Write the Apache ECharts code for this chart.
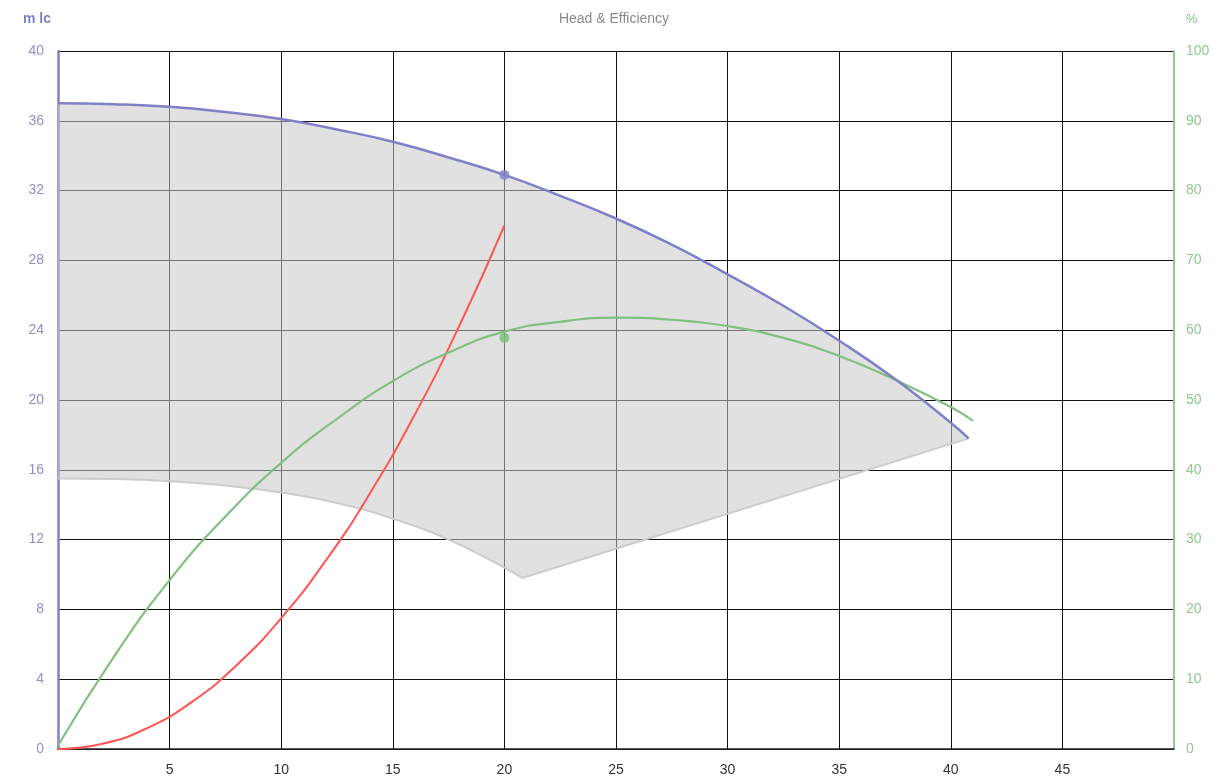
<!DOCTYPE html>
<html>
<head>
<meta charset="utf-8">
<script src="https://cdn.jsdelivr.net/npm/echarts@6/dist/echarts.min.js"></script>
<style>html,body{margin:0;padding:0;background:#fff}#c{width:1228px;height:783px}</style>
</head>
<body>
<div id="c"></div>
<script>
// Head curve (m lc)
const headQ = [0, 2.5, 5, 7.5, 10, 12.5, 15, 17.5, 20, 22.5, 25, 27.5, 30, 32.5, 35, 37.5, 40, 40.8];
const headH = [37, 36.95, 36.8, 36.5, 36.1, 35.5, 34.8, 33.9, 32.9, 31.7, 30.4, 28.9, 27.2, 25.4, 23.4, 21.2, 18.7, 17.8];
// Lower boundary of operating area (m lc): curved part, then straight part
const lowCurveQ = [0, 2.5, 5, 7.5, 10, 12.5, 15, 17.5, 20, 20.8];
const lowCurveH = [15.5, 15.47, 15.35, 15.1, 14.7, 14.1, 13.2, 12.0, 10.4, 9.8];
const lowLineQ = [20.8, 40.8];
const lowLineH = [9.8, 17.8];
// System curve (m lc)
const sysQ = [0, 2, 4, 6, 8, 10, 12, 14, 16, 18, 20];
const sysH = [0, 0.3, 1.2, 2.7, 4.8, 7.5, 10.8, 14.7, 19.2, 24.3, 30];
// Efficiency (%)
const effQ = [0, 2.5, 5, 7.5, 10, 12.5, 15, 17.5, 20, 22.5, 25, 27.5, 30, 32.5, 35, 37.5, 40, 41];
const effP = [0.5, 13.2, 24.2, 33.3, 41, 47.3, 52.7, 56.8, 59.8, 61.2, 61.8, 61.5, 60.6, 58.9, 56.3, 52.9, 49, 47];
// Duty points
const dutyHead = [[20, 32.9]];
const dutyEff = [[20, 58.9]];

const zip = (a, b) => a.map((v, i) => [v, b[i]]);
const PURPLE = '#8080c8', GREEN = '#80c080', RED = '#ff5555';

const chart = echarts.init(document.getElementById('c'), null, {renderer: 'canvas'});
chart.setOption({
  animation: false,
  title: {text: 'Head & Efficiency', left: 'center', top: 7,
    textStyle: {fontFamily: 'Arial, Liberation Sans', fontSize: 14, fontWeight: 'normal', color: '#8a8a8a'}},
  grid: {left: 58, right: 54, top: 51, bottom: 34, containLabel: false},
  xAxis: {
    type: 'value', min: 0, max: 50, interval: 5,
    axisLine: {show: true, lineStyle: {color: '#222', width: 1.5}},
    axisTick: {show: false},
    splitLine: {show: true, lineStyle: {color: '#111', width: 1}},
    axisLabel: {color: '#333', fontSize: 14, fontFamily: 'Arial, Liberation Sans', margin: 14,
      formatter: v => (v === 0 || v === 50) ? '' : String(v)}
  },
  yAxis: [{
    type: 'value', min: 0, max: 40, interval: 4,
    name: 'm lc', nameLocation: 'end', nameGap: 25,
    nameTextStyle: {color: PURPLE, fontWeight: 'bold', fontSize: 14, fontFamily: 'Arial, Liberation Sans', align: 'right', padding: [0, 7, 0, 0]},
    axisLine: {show: true, lineStyle: {color: PURPLE, width: 2.5}},
    axisTick: {show: false},
    splitLine: {show: true, lineStyle: {color: '#111', width: 1}},
    axisLabel: {color: '#9090c8', fontSize: 14, fontFamily: 'Arial, Liberation Sans', margin: 14}
  }, {
    type: 'value', min: 0, max: 100, interval: 10, position: 'right',
    name: '%', nameLocation: 'end', nameGap: 25,
    nameTextStyle: {color: GREEN, fontSize: 13, fontFamily: 'Arial, Liberation Sans', align: 'left', padding: [0, 0, 0, 12]},
    axisLine: {show: true, lineStyle: {color: '#90cc90', width: 2}},
    axisTick: {show: false},
    splitLine: {show: false},
    axisLabel: {color: '#90c890', fontSize: 14, fontFamily: 'Arial, Liberation Sans', margin: 12}
  }],
  series: [
    {
      type: 'custom', coordinateSystem: 'cartesian2d', yAxisIndex: 0, z: 1, silent: true,
      data: [[0, 0]],
      renderItem: function (params, api) {
        const pts = [];
        for (let i = 0; i < headQ.length; i++) pts.push(api.coord([headQ[i], headH[i]]));
        for (let i = lowLineQ.length - 1; i >= 0; i--) pts.push(api.coord([lowLineQ[i], lowLineH[i]]));
        for (let i = lowCurveQ.length - 1; i >= 0; i--) pts.push(api.coord([lowCurveQ[i], lowCurveH[i]]));
        return {type: 'polygon', shape: {points: pts, smooth: 0},
          style: {fill: 'rgba(200,200,200,0.55)', stroke: 'none'}};
      }
    },
    {type: 'line', yAxisIndex: 0, data: zip(lowCurveQ, lowCurveH), smooth: true, symbol: 'none', z: 2,
      lineStyle: {color: '#cccccc', width: 2}},
    {type: 'line', yAxisIndex: 0, data: zip(lowLineQ, lowLineH), smooth: false, symbol: 'none', z: 2,
      lineStyle: {color: '#cccccc', width: 2}},
    {type: 'line', yAxisIndex: 0, data: zip(headQ, headH), smooth: true, symbol: 'none', z: 4,
      lineStyle: {color: PURPLE, width: 2.5}},
    {type: 'line', yAxisIndex: 0, data: zip(sysQ, sysH), smooth: true, symbol: 'none', z: 3,
      lineStyle: {color: RED, width: 2}},
    {type: 'line', yAxisIndex: 1, data: zip(effQ, effP), smooth: true, symbol: 'none', z: 3,
      lineStyle: {color: GREEN, width: 2.2}},
    {type: 'scatter', yAxisIndex: 0, data: dutyHead, symbolSize: 10, z: 5,
      itemStyle: {color: PURPLE}},
    {type: 'scatter', yAxisIndex: 1, data: dutyEff, symbolSize: 10, z: 5,
      itemStyle: {color: '#78c078'}}
  ]
});
</script>
</body>
</html>
